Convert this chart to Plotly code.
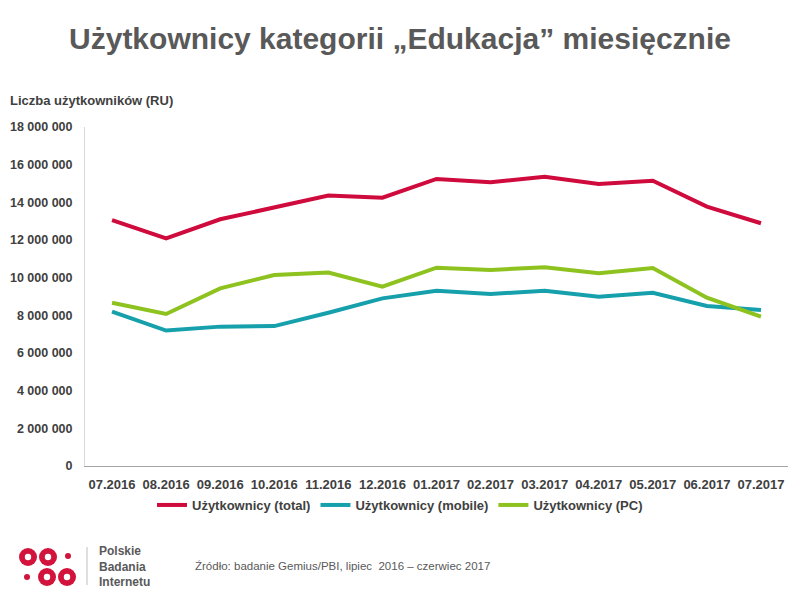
import plotly.graph_objects as go

# data
months = ["07.2016", "08.2016", "09.2016", "10.2016", "11.2016", "12.2016",
          "01.2017", "02.2017", "03.2017", "04.2017", "05.2017", "06.2017", "07.2017"]
users_total = [13060000, 12090000, 13100000, 13720000, 14360000, 14250000,
               15240000, 15070000, 15360000, 14980000, 15150000, 13770000, 12890000]
users_mobile = [8200000, 7190000, 7400000, 7430000, 8140000, 8900000,
                9310000, 9130000, 9310000, 8990000, 9200000, 8500000, 8280000]
users_pc = [8670000, 8070000, 9430000, 10140000, 10270000, 9520000,
            10530000, 10410000, 10550000, 10230000, 10510000, 8940000, 7930000]

series = [
    ("Użytkownicy (total)", users_total, "#CF0A3C"),
    ("Użytkownicy (mobile)", users_mobile, "#16A0AC"),
    ("Użytkownicy (PC)", users_pc, "#8DC21F"),
]

TEXT = "#404040"
FONT = "Liberation Sans, Arial, sans-serif"

# page is drawn with an 8px body margin, so figure px = screen px - 8
OFF = 8
L, R, T, B = 85 - OFF, 788 - OFF, 127 - OFF, 466 - OFF


def px_x(x):
    return (x - OFF - L) / (R - L)


def px_y(y):
    return (B - (y - OFF)) / (B - T)


fig = go.Figure()
for name, vals, color in series:
    fig.add_trace(go.Scatter(
        x=months, y=vals, name=name, mode="lines",
        line=dict(color=color, width=4),
    ))

# logo: rings and dots
shapes = []
red = "#D2143C"
for cx, cy in [(28, 557), (48, 557), (47, 577), (67, 577)]:
    shapes.append(dict(type="circle", xref="paper", yref="paper",
                       x0=px_x(cx - 9), x1=px_x(cx + 9), y0=px_y(cy + 9), y1=px_y(cy - 9),
                       fillcolor=red, line=dict(width=0)))
    shapes.append(dict(type="circle", xref="paper", yref="paper",
                       x0=px_x(cx - 3.2), x1=px_x(cx + 3.2), y0=px_y(cy + 3.2), y1=px_y(cy - 3.2),
                       fillcolor="white", line=dict(width=0)))
for cx, cy in [(68, 556), (27, 577)]:
    shapes.append(dict(type="circle", xref="paper", yref="paper",
                       x0=px_x(cx - 3), x1=px_x(cx + 3), y0=px_y(cy + 3), y1=px_y(cy - 3),
                       fillcolor=red, line=dict(width=0)))
shapes.append(dict(type="line", xref="paper", yref="paper",
                   x0=px_x(87), x1=px_x(87), y0=px_y(547), y1=px_y(585),
                   line=dict(color="#BFBFBF", width=1)))

annotations = [
    dict(text="<b>Liczba użytkowników (RU)</b>", xref="paper", yref="paper",
         x=px_x(8), y=px_y(100), xanchor="left", yanchor="middle", showarrow=False,
         font=dict(size=13, color=TEXT, family=FONT)),
    dict(text="Źródło: badanie Gemius/PBI, lipiec  2016 – czerwiec 2017", xref="paper", yref="paper",
         x=px_x(193), y=px_y(566), xanchor="left", yanchor="middle", showarrow=False,
         font=dict(size=11.5, color="#595959", family=FONT)),
    dict(text="<b>Polskie<br>Badania<br>Internetu</b>", xref="paper", yref="paper",
         x=px_x(97), y=px_y(566), xanchor="left", yanchor="middle", align="left",
         showarrow=False, font=dict(size=12, color="#595959", family=FONT)),
]

fig.update_layout(
    width=800, height=600,
    margin=dict(l=L, r=800 - R, t=T, b=600 - B),
    paper_bgcolor="white", plot_bgcolor="white",
    separators=", ",
    font=dict(family=FONT, color=TEXT),
    title=dict(text="<b>Użytkownicy kategorii „Edukacja” miesięcznie</b>",
               x=(400 - OFF) / 800, xanchor="center", y=1 - (38 - OFF) / 600, yanchor="middle",
               font=dict(size=30, color="#595959",
                         family="Liberation Sans Narrow, Arial Narrow, Liberation Sans, sans-serif")),
    showlegend=True,
    legend=dict(orientation="h", x=px_x(400), xanchor="center", y=px_y(505), yanchor="middle",
                font=dict(size=13, color=TEXT, family=FONT, weight="bold"),
                tracegroupgap=0),
    shapes=shapes,
    annotations=annotations,
)
fig.update_xaxes(
    type="category", range=[-0.5, 12.5], showgrid=False, automargin=False,
    showline=True, linecolor="#A6A6A6", linewidth=1,
    ticks="", ticklabelstandoff=6,
    tickfont=dict(size=13, color=TEXT, family=FONT, weight="bold"),
)
fig.update_yaxes(
    range=[0, 18000000], dtick=2000000, tickformat=",d", showgrid=False,
    showline=True, linecolor="#D9D9D9", linewidth=1, zeroline=False, automargin=False,
    ticks="", ticklabelstandoff=9,
    tickfont=dict(size=12.5, color=TEXT, family=FONT, weight="bold"),
)

fig.write_html("out.html")
